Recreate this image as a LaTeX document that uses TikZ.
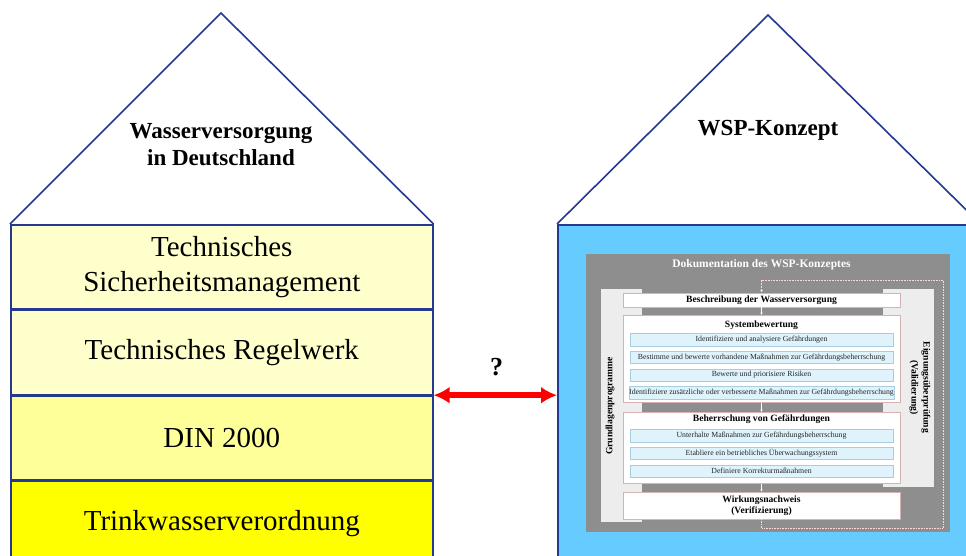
\documentclass[tikz,border=0pt]{standalone}
\usepackage{fontspec}
\setmainfont{Liberation Serif}[BoldFont={Liberation Serif Bold}]
\usepackage{tikz}
\usetikzlibrary{arrows.meta, chains, positioning}

\definecolor{houseblue}{HTML}{24398F}
\definecolor{paleyellow}{HTML}{FFFFCC}
\definecolor{lightyellow}{HTML}{FFFF99}
\definecolor{fullyellow}{HTML}{FFFF00}
\definecolor{wspblue}{HTML}{66CCFF}
\definecolor{dokugray}{HTML}{8E8E8E}
\definecolor{sidegray}{HTML}{EDEDED}
\definecolor{stepblue}{HTML}{DFF3FC}
\definecolor{stepline}{HTML}{A8CDE0}
\definecolor{boxline}{HTML}{D6B3B3}

\begin{document}
\begin{tikzpicture}[x=1pt, y=1pt]
    \tikzstyle{roofline}=[draw=houseblue, line width=1.6pt]
    \tikzstyle{layer}=[draw=houseblue, line width=1.6pt, minimum width=422pt, minimum height=84pt, align=center, inner sep=0pt, font=\fontsize{29}{35}\selectfont]
    \tikzstyle{rooftitle}=[align=center, font=\bfseries\fontsize{23}{27}\selectfont]
    \tikzstyle{mainbox}=[draw=boxline, fill=white, line width=0.5pt, minimum width=277pt, inner sep=1pt, align=center, font=\bfseries\fontsize{9.6}{11.5}\selectfont]
    \tikzstyle{boxtitle}=[inner sep=0pt, font=\bfseries\fontsize{9.6}{11.5}\selectfont]
    \tikzstyle{stepbox}=[draw=stepline, fill=stepblue, line width=0.5pt, minimum width=263pt, minimum height=12.5pt, inner sep=0pt, text=black!85, font=\fontsize{7.8}{9}\selectfont]
    \tikzstyle{sidepanel}=[fill=sidegray, inner sep=0pt, anchor=north west]
    \tikzstyle{sidetext}=[align=center, inner sep=0pt, font=\bfseries\fontsize{9.6}{12}\selectfont]
    \tikzstyle{flowtick}=[draw=white, line width=0.8pt, -{Latex[length=2.5pt,width=2.5pt]}]
    \tikzstyle{loopline}=[draw=white!85!red, line width=0.6pt, densely dotted, -{Latex[length=3pt,width=3pt]}]
    \tikzstyle{bothway}=[draw=red, line width=6pt, {Latex[length=16pt,width=17pt]}-{Latex[length=16pt,width=17pt]}]

    \useasboundingbox (0,0) rectangle (966,-555);
    \clip (0,0) rectangle (966,-555);
    \fill[white] (0,0) rectangle (966,-555);

    % left house
    \begin{scope}[start chain=layers going below, node distance=0pt]
        \node [on chain, layer, fill=paleyellow, anchor=north west] (sicher) at (10,-224) {Technisches\\Sicherheitsmanagement};
        \node [on chain, layer, fill=paleyellow] (regel) {Technisches Regelwerk};
        \node [on chain, layer, fill=lightyellow] (din) {DIN 2000};
        \node [on chain, layer, fill=fullyellow] (trink) {Trinkwasserverordnung};
    \end{scope}
    \coordinate (lpeak) at (221,-13);
    \draw [roofline] (sicher.north west) -- (lpeak) -- (sicher.north east);
    \node [rooftitle] (lname) at (221,-145) {Wasserversorgung\\in Deutschland};

    % right house
    \node [draw=houseblue, line width=1.6pt, fill=wspblue, minimum width=422pt, minimum height=336pt, anchor=north west] (wsp) at (557,-224) {};
    \coordinate (rpeak) at (768,-15);
    \draw [roofline] (wsp.north west) -- (rpeak) -- (wsp.north east);
    \node [rooftitle] (rname) at (768,-130) {WSP-Konzept};

    % the question between them
    \draw [bothway] (din.north east) -- (din.north east -| wsp.west);
    \node [font=\bfseries\fontsize{26}{30}\selectfont] (qmark) at (496.5,-367) {?};

    % WSP documentation panel
    \node [fill=dokugray, minimum width=364pt, minimum height=278pt, anchor=north west, inner sep=0pt] (doku) at (586,-254) {};
    \node [text=white, font=\bfseries\fontsize{11.5}{13}\selectfont] (dokutitle) at (761.5,-265) {Dokumentation des WSP-Konzeptes};
    \node [sidepanel, minimum width=41pt, minimum height=233pt] (grund) at (601,-289) {};
    \node [sidepanel, minimum width=51pt, minimum height=198pt] (eign) at (883,-289) {};
    \node [sidetext, rotate=90] (grundtext) at (610,-406) {Grundlagenprogramme};
    \node [sidetext, rotate=-90] (eigntext) at (920,-387.5) {Eignungsüberprüfung\\(Validierung)};

    \node [mainbox, minimum height=14pt] (beschr) at (761.5,-300) {Beschreibung der Wasserversorgung};

    \node [mainbox, minimum height=87pt, anchor=north] (sysbew) at (761.5,-315) {};
    \node [boxtitle] (systitle) at (761.5,-325.5) {Systembewertung};
    \begin{scope}[start chain=sys going below, node distance=4.8pt]
        \node [on chain, stepbox, anchor=north] (sys1) at (761.5,-333) {Identifiziere und analysiere Gefährdungen};
        \node [on chain, stepbox] (sys2) {Bestimme und bewerte vorhandene Maßnahmen zur Gefährdungsbeherrschung};
        \node [on chain, stepbox] (sys3) {Bewerte und priorisiere Risiken};
        \node [on chain, stepbox] (sys4) {Identifiziere zusätzliche oder verbesserte Maßnahmen zur Gefährdungsbeherrschung};
    \end{scope}

    \node [mainbox, minimum height=71pt, anchor=north] (beherr) at (761.5,-412) {};
    \node [boxtitle] (behtitle) at (761.5,-419.5) {Beherrschung von Gefährdungen};
    \begin{scope}[start chain=ctl going below, node distance=4.8pt]
        \node [on chain, stepbox, anchor=north] (ctl1) at (761.5,-429) {Unterhalte Maßnahmen zur Gefährdungsbeherrschung};
        \node [on chain, stepbox] (ctl2) {Etabliere ein betriebliches Überwachungssystem};
        \node [on chain, stepbox] (ctl3) {Definiere Korrekturmaßnahmen};
    \end{scope}

    \node [mainbox, minimum height=27pt] (wirk) at (761.5,-505.5) {Wirkungsnachweis\\(Verifizierung)};

    \draw [flowtick] (beschr.south) -- (sysbew.north);
    \draw [flowtick] (sysbew.south) -- (beherr.north);
    \draw [flowtick] (beherr.south) -- (wirk.north);

    \coordinate (loopbr) at (943,-528);
    \coordinate (looptr) at (943,-280);
    \draw [loopline] (wirk.south) |- (loopbr) -- (looptr) -| (beschr.north);
\end{tikzpicture}
\end{document}
